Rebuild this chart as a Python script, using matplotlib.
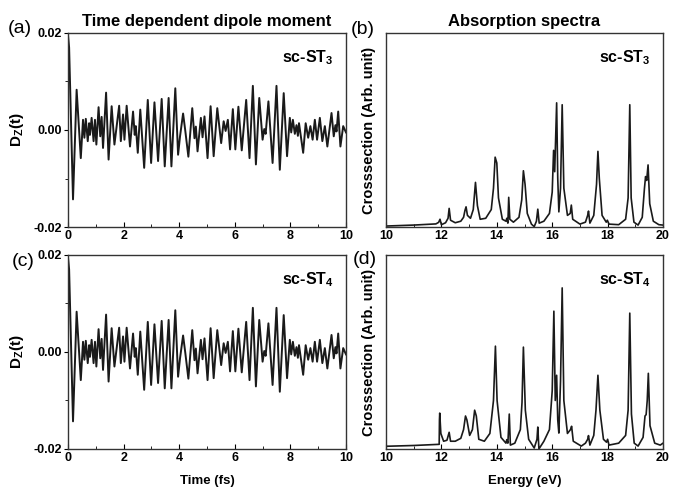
import numpy as np
import matplotlib.pyplot as plt

plt.rcParams['font.family'] = ['Liberation Sans', 'DejaVu Sans']
plt.rcParams['font.weight'] = 'bold'
plt.rcParams['mathtext.default'] = 'regular'

# time dependent dipole moment D_z(t), extrema; panel (c) looks the same
dip_t = [0.00, 0.04, 0.18, 0.31, 0.46, 0.54, 0.59, 0.64, 0.71, 0.76, 0.79, 0.85, 0.92, 0.97,
         1.02, 1.10, 1.16, 1.21, 1.26, 1.37, 1.46, 1.57, 1.67, 1.84, 1.90, 1.98, 2.03, 2.11,
         2.23, 2.34, 2.40, 2.44, 2.51, 2.60, 2.74, 2.87, 2.99, 3.11, 3.24, 3.37, 3.48, 3.62,
         3.72, 3.86, 3.96, 4.03, 4.14, 4.22, 4.33, 4.47, 4.55, 4.60, 4.66, 4.78, 4.84, 4.91,
         5.02, 5.13, 5.24, 5.37, 5.51, 5.60, 5.67, 5.75, 5.83, 5.93, 6.02, 6.13, 6.25, 6.41,
         6.53, 6.65, 6.76, 6.88, 7.00, 7.06, 7.11, 7.21, 7.36, 7.50, 7.62, 7.76, 7.88, 7.98,
         8.03, 8.09, 8.16, 8.22, 8.27, 8.31, 8.46, 8.55, 8.64, 8.72, 8.80, 8.88, 8.96, 9.06,
         9.15, 9.24, 9.33, 9.48, 9.56, 9.62, 9.66, 9.72, 9.80, 9.90, 10.00]
dip_st3 = [0.0195, 0.0170, -0.0143, 0.0083, -0.0058, 0.0021, -0.0016, 0.0023, -0.0023, 0.0014,
           -0.0010, 0.0025, -0.0023, 0.0021, -0.0030, 0.0047, -0.0013, 0.0027, -0.0037, 0.0077,
           -0.0061, 0.0049, -0.0030, 0.0050, -0.0023, 0.0032, -0.0020, 0.0050, -0.0034, 0.0038,
           -0.0010, 0.0008, -0.0047, 0.0042, -0.0078, 0.0062, -0.0068, 0.0057, -0.0064, 0.0064,
           -0.0075, 0.0066, -0.0075, 0.0086, -0.0051, -0.0013, 0.0034, -0.0002, -0.0055, 0.0045,
           -0.0017, 0.0007, -0.0044, 0.0025, -0.0015, 0.0028, -0.0058, 0.0049, -0.0054, 0.0045,
           -0.0027, 0.0018, -0.0002, 0.0021, -0.0040, 0.0043, -0.0040, 0.0048, -0.0042, 0.0062,
           -0.0058, 0.0091, -0.0071, 0.0066, -0.0020, 0.0002, -0.0008, 0.0059, -0.0068, 0.0091,
           -0.0082, 0.0076, -0.0054, 0.0025, -0.0005, 0.0021, -0.0008, 0.0010, -0.0012, 0.0014,
           -0.0047, 0.0014, -0.0016, 0.0008, -0.0020, 0.0021, -0.0020, 0.0025, -0.0023, 0.0008,
           -0.0034, 0.0035, -0.0013, 0.0010, -0.0003, 0.0038, -0.0034, 0.0008, -0.0005]
dip_st4 = list(dip_st3)

# absorption spectra (arb. unit)
en_st3 = [10.00, 11.00, 11.80, 11.90, 11.95, 12.00, 12.15, 12.24, 12.28, 12.33, 12.50, 12.70,
          12.80, 12.85, 12.89, 12.94, 13.05, 13.15, 13.23, 13.30, 13.40, 13.60, 13.80, 13.88,
          13.94, 14.00, 14.06, 14.20, 14.33, 14.36, 14.40, 14.43, 14.47, 14.60, 14.80, 14.90,
          14.96, 15.02, 15.10, 15.25, 15.35, 15.43, 15.48, 15.53, 15.70, 15.90, 16.00, 16.05,
          16.09, 16.16, 16.20, 16.24, 16.30, 16.36, 16.42, 16.55, 16.65, 16.69, 16.74, 17.00,
          17.20, 17.28, 17.31, 17.36, 17.50, 17.60, 17.65, 17.70, 17.80, 17.95, 17.99, 18.05,
          18.40, 18.65, 18.74, 18.80, 18.85, 18.95, 19.10, 19.25, 19.33, 19.37, 19.41, 19.46,
          19.52, 19.65, 19.85, 20.00]
cs_st3 = [0.005, 0.010, 0.016, 0.024, 0.040, 0.012, 0.022, 0.045, 0.096, 0.035, 0.022, 0.030,
          0.050, 0.085, 0.104, 0.060, 0.045, 0.090, 0.230, 0.110, 0.040, 0.045, 0.090, 0.200,
          0.360, 0.330, 0.150, 0.040, 0.030, 0.045, 0.020, 0.153, 0.040, 0.025, 0.050, 0.140,
          0.290, 0.220, 0.070, 0.015, 0.002, 0.030, 0.092, 0.020, 0.030, 0.070, 0.180, 0.395,
          0.285, 0.640, 0.250, 0.078, 0.200, 0.630, 0.200, 0.060, 0.070, 0.113, 0.040, 0.015,
          0.025, 0.060, 0.082, 0.020, 0.060, 0.220, 0.390, 0.250, 0.060, 0.025, 0.035, 0.015,
          0.012, 0.040, 0.150, 0.630, 0.150, 0.025, 0.010, 0.050, 0.200, 0.260, 0.240, 0.320,
          0.120, 0.030, 0.012, 0.010]

en_st4 = [10.00, 11.00, 11.92, 11.93, 11.94, 11.98, 12.08, 12.20, 12.28, 12.33, 12.50, 12.70,
          12.80, 12.87, 12.92, 13.02, 13.12, 13.20, 13.26, 13.35, 13.55, 13.75, 13.88, 13.95,
          14.01, 14.15, 14.33, 14.36, 14.40, 14.45, 14.49, 14.65, 14.85, 14.91, 14.96, 15.03,
          15.15, 15.35, 15.45, 15.48, 15.52, 15.70, 15.90, 16.00, 16.06, 16.11, 16.16, 16.20,
          16.24, 16.30, 16.36, 16.42, 16.55, 16.66, 16.70, 16.76, 17.05, 17.20, 17.28, 17.31,
          17.36, 17.50, 17.58, 17.65, 17.72, 17.85, 17.96, 18.00, 18.05, 18.40, 18.65, 18.74,
          18.80, 18.86, 18.96, 19.10, 19.28, 19.35, 19.39, 19.43, 19.47, 19.53, 19.70, 19.90, 20.00]
cs_st4 = [0.014, 0.018, 0.024, 0.150, 0.185, 0.080, 0.040, 0.045, 0.086, 0.040, 0.040, 0.055,
          0.100, 0.170, 0.150, 0.070, 0.100, 0.200, 0.170, 0.050, 0.040, 0.080, 0.250, 0.530,
          0.250, 0.060, 0.030, 0.048, 0.030, 0.180, 0.020, 0.030, 0.100, 0.240, 0.525, 0.200,
          0.050, 0.005, 0.050, 0.113, 0.000, 0.040, 0.100, 0.300, 0.710, 0.250, 0.380, 0.150,
          0.082, 0.350, 0.830, 0.250, 0.080, 0.100, 0.117, 0.040, 0.015, 0.030, 0.050, 0.069,
          0.020, 0.070, 0.200, 0.380, 0.200, 0.050, 0.035, 0.050, 0.020, 0.030, 0.070, 0.200,
          0.700, 0.180, 0.030, 0.015, 0.060, 0.170, 0.177, 0.250, 0.390, 0.120, 0.030, 0.020, 0.030]

fig = plt.figure(figsize=(6.76, 4.90), dpi=100)

W_L, W_R, H = 0.4112, 0.4098, 0.396
ax_a = fig.add_axes([0.1006, 0.5367, W_L, H])
ax_b = fig.add_axes([0.571, 0.5367, W_R, H])
ax_c = fig.add_axes([0.1006, 0.0837, W_L, H])
ax_d = fig.add_axes([0.571, 0.0837, W_R, H])

line_col = '#1a1a1a'
tick_fs = 9

for ax, y, name in [(ax_a, dip_st3, 'sc-ST$_3$'), (ax_c, dip_st4, 'sc-ST$_4$')]:
    ax.plot(dip_t, y, color=line_col, lw=1.4)
    ax.set_xlim(0, 10)
    ax.set_ylim(-0.02, 0.02)
    ax.set_xticks([0, 2, 4, 6, 8, 10])
    ax.set_xticks([1, 3, 5, 7, 9], minor=True)
    ax.set_yticks([-0.02, 0.0, 0.02])
    ax.set_yticklabels(['-0.02', '0.00', '0.02'])
    ax.set_yticks([-0.01, 0.01], minor=True)
    ax.tick_params(axis='x', which='both', direction='in', labelsize=tick_fs, pad=2)
    ax.tick_params(axis='x', which='major', length=3.5)
    ax.tick_params(axis='x', which='minor', length=2)
    ax.tick_params(axis='y', which='both', direction='out', labelsize=tick_fs, pad=1.5)
    ax.tick_params(axis='y', which='major', length=3)
    ax.tick_params(axis='y', which='minor', length=2)
    ax.set_ylabel('D$_Z$(t)', fontsize=11, fontweight='bold', labelpad=5)
    ax.text(0.955, 0.875, name, transform=ax.transAxes, ha='right', va='center',
            fontsize=11.5, fontweight='bold')

for ax, x, y, name in [(ax_b, en_st3, cs_st3, 'sc-ST$_3$'), (ax_d, en_st4, cs_st4, 'sc-ST$_4$')]:
    ax.plot(x, y, color=line_col, lw=1.2)
    ax.set_xlim(10, 20)
    ax.set_ylim(0, 1)
    ax.set_xticks([10, 12, 14, 16, 18, 20])
    ax.set_xticks([11, 13, 15, 17, 19], minor=True)
    ax.set_yticks([])
    ax.tick_params(axis='x', which='both', direction='in', labelsize=tick_fs, pad=2)
    ax.tick_params(axis='x', which='major', length=3.5)
    ax.tick_params(axis='x', which='minor', length=2)
    ax.set_ylabel('Crosssection (Arb. unit)', fontsize=10.5, fontweight='bold', labelpad=7)
    ax.text(0.955, 0.875, name, transform=ax.transAxes, ha='right', va='center',
            fontsize=11.5, fontweight='bold')

for ax in (ax_a, ax_b, ax_c, ax_d):
    for s in ax.spines.values():
        s.set_linewidth(1.0)
        s.set_color('#333333')
    for lab in ax.get_xticklabels() + ax.get_yticklabels():
        lab.set_fontweight('bold')

ax_a.set_title('Time dependent dipole moment', fontsize=12, fontweight='bold', pad=5)
ax_b.set_title('Absorption spectra', fontsize=12, fontweight='bold', pad=5)
ax_c.set_xlabel('Time (fs)', fontsize=9.5, fontweight='bold', labelpad=8)
ax_d.set_xlabel('Energy (eV)', fontsize=9.5, fontweight='bold', labelpad=8)

fig.text(0.030, 0.941, '(a)', fontsize=14, fontweight='normal', ha='center', va='center')
fig.text(0.536, 0.939, '(b)', fontsize=14, fontweight='normal', ha='center', va='center')
fig.text(0.034, 0.467, '(c)', fontsize=14, fontweight='normal', ha='center', va='center')
fig.text(0.540, 0.471, '(d)', fontsize=14, fontweight='normal', ha='center', va='center')

fig.savefig('out.png', dpi=100)
